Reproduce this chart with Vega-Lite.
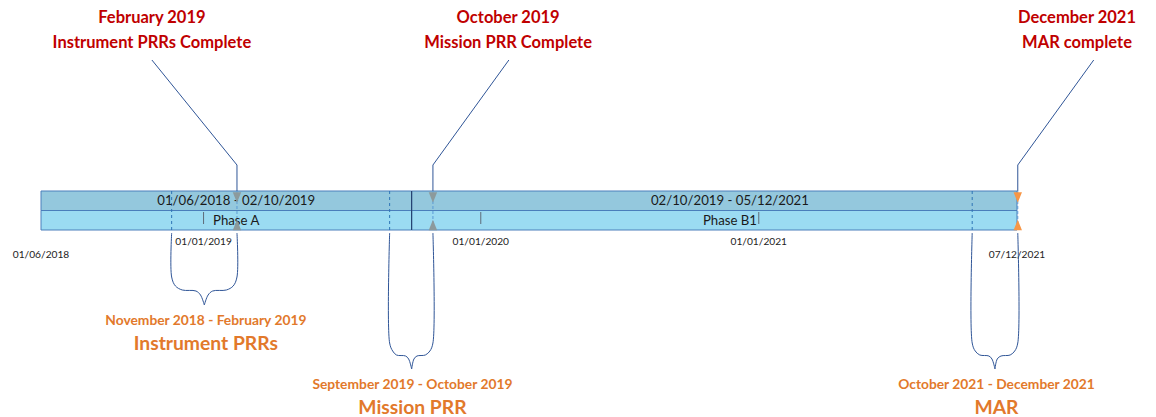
{
  "$schema": "https://vega.github.io/schema/vega-lite/v6.json",
  "width": 1156,
  "height": 417,
  "autosize": "none",
  "padding": 0,
  "background": "white",
  "config": {"view": {"stroke": null}, "text": {"font": "Lato"}},
  "datasets": {
    "phases": [
      {"phase": "Phase A", "range": "01/06/2018 - 02/10/2019", "start": "2018-06-01", "end": "2019-10-02", "mid": "2019-02-13"},
      {"phase": "Phase B1", "range": "02/10/2019 - 05/12/2021", "start": "2019-10-02", "end": "2021-12-07", "mid": "2020-11-24"}
    ],
    "years": [
      {"date": "2019-01-01", "label": "01/01/2019"},
      {"date": "2020-01-01", "label": "01/01/2020"},
      {"date": "2021-01-01", "label": "01/01/2021"}
    ],
    "ends": [
      {"date": "2018-06-01", "label": "01/06/2018"},
      {"date": "2021-12-07", "label": "07/12/2021"}
    ],
    "milestones": [
      {"month": "February 2019", "name": "Instrument PRRs Complete", "type": "PRR", "date": "2019-02-14", "anchor": "2018-10-25", "labelAt": "2018-10-25"},
      {"month": "October 2019", "name": "Mission PRR Complete", "type": "PRR", "date": "2019-10-30", "anchor": "2020-02-07", "labelAt": "2020-02-06"},
      {"month": "December 2021", "name": "MAR complete", "type": "MAR", "date": "2021-12-08", "anchor": "2022-03-18", "labelAt": "2022-02-24"}
    ],
    "windows": [
      {"name": "Instrument PRRs", "range": "November 2018 - February 2019", "start": "2018-11-20", "labelAt": "2019-01-04", "tip": 305},
      {"name": "Mission PRR", "range": "September 2019 - October 2019", "start": "2019-09-03", "labelAt": "2019-10-03", "tip": 369},
      {"name": "MAR", "range": "October 2021 - December 2021", "start": "2021-10-09", "labelAt": "2021-11-10", "tip": 369}
    ],
    "braces": [
      {"brace": "1L", "i": 0, "date": "2018-11-20", "level": 233},
      {"brace": "1L", "i": 1, "date": "2018-11-20", "level": 277},
      {"brace": "1L", "i": 2, "date": "2018-11-25", "level": 286},
      {"brace": "1L", "i": 3, "date": "2018-12-04", "level": 290},
      {"brace": "1L", "i": 4, "date": "2018-12-22", "level": 291},
      {"brace": "1L", "i": 5, "date": "2018-12-28", "level": 295},
      {"brace": "1L", "i": 6, "date": "2019-01-02", "level": 305},
      {"brace": "1R", "i": 0, "date": "2019-02-14", "level": 233},
      {"brace": "1R", "i": 1, "date": "2019-02-14", "level": 277},
      {"brace": "1R", "i": 2, "date": "2019-02-09", "level": 286},
      {"brace": "1R", "i": 3, "date": "2019-01-31", "level": 290},
      {"brace": "1R", "i": 4, "date": "2019-01-13", "level": 291},
      {"brace": "1R", "i": 5, "date": "2019-01-07", "level": 295},
      {"brace": "1R", "i": 6, "date": "2019-01-02", "level": 305},
      {"brace": "2L", "i": 0, "date": "2019-09-03", "level": 233},
      {"brace": "2L", "i": 1, "date": "2019-09-03", "level": 343},
      {"brace": "2L", "i": 2, "date": "2019-09-07", "level": 351},
      {"brace": "2L", "i": 3, "date": "2019-09-12", "level": 355},
      {"brace": "2L", "i": 4, "date": "2019-09-24", "level": 356},
      {"brace": "2L", "i": 5, "date": "2019-09-28", "level": 359},
      {"brace": "2L", "i": 6, "date": "2019-10-02", "level": 369},
      {"brace": "2R", "i": 0, "date": "2019-10-30", "level": 233},
      {"brace": "2R", "i": 1, "date": "2019-10-30", "level": 343},
      {"brace": "2R", "i": 2, "date": "2019-10-26", "level": 351},
      {"brace": "2R", "i": 3, "date": "2019-10-20", "level": 355},
      {"brace": "2R", "i": 4, "date": "2019-10-09", "level": 356},
      {"brace": "2R", "i": 5, "date": "2019-10-05", "level": 359},
      {"brace": "2R", "i": 6, "date": "2019-10-02", "level": 369},
      {"brace": "3L", "i": 0, "date": "2021-10-09", "level": 233},
      {"brace": "3L", "i": 1, "date": "2021-10-09", "level": 343},
      {"brace": "3L", "i": 2, "date": "2021-10-13", "level": 351},
      {"brace": "3L", "i": 3, "date": "2021-10-19", "level": 355},
      {"brace": "3L", "i": 4, "date": "2021-10-31", "level": 356},
      {"brace": "3L", "i": 5, "date": "2021-11-04", "level": 359},
      {"brace": "3L", "i": 6, "date": "2021-11-08", "level": 369},
      {"brace": "3R", "i": 0, "date": "2021-12-08", "level": 233},
      {"brace": "3R", "i": 1, "date": "2021-12-08", "level": 343},
      {"brace": "3R", "i": 2, "date": "2021-12-04", "level": 351},
      {"brace": "3R", "i": 3, "date": "2021-11-28", "level": 355},
      {"brace": "3R", "i": 4, "date": "2021-11-16", "level": 356},
      {"brace": "3R", "i": 5, "date": "2021-11-11", "level": 359},
      {"brace": "3R", "i": 6, "date": "2021-11-08", "level": 369}
    ]
  },
  "layer": [
    {
      "data": {"name": "phases"},
      "mark": {"type": "rect", "fill": "#94C8DD", "stroke": "#4A7EBB", "strokeWidth": 1},
      "encoding": {
        "x": {"field": "start", "type": "temporal", "axis": null, "scale": {"type": "utc", "domain": [{"year": 2018, "month": 4, "date": 8, "utc": true}, {"year": 2022, "month": 6, "date": 8, "utc": true}]}},
        "x2": {"field": "end"},
        "y": {"datum": 191, "type": "quantitative", "axis": null, "scale": {"domain": [0, 417], "reverse": true}},
        "y2": {"datum": 210.5}
      }
    },
    {
      "data": {"name": "phases"},
      "mark": {"type": "rect", "fill": "#9BDBF2", "stroke": "#4A7EBB", "strokeWidth": 1},
      "encoding": {
        "x": {"field": "start", "type": "temporal", "axis": null, "scale": {"type": "utc", "domain": [{"year": 2018, "month": 4, "date": 8, "utc": true}, {"year": 2022, "month": 6, "date": 8, "utc": true}]}},
        "x2": {"field": "end"},
        "y": {"datum": 210.5, "type": "quantitative", "axis": null, "scale": {"domain": [0, 417], "reverse": true}},
        "y2": {"datum": 230}
      }
    },
    {
      "data": {"name": "phases"},
      "transform": [{"filter": "datum.phase == 'Phase B1'"}],
      "mark": {"type": "rule", "color": "#1F3864", "strokeWidth": 1},
      "encoding": {
        "x": {"field": "start", "type": "temporal", "axis": null, "scale": {"type": "utc", "domain": [{"year": 2018, "month": 4, "date": 8, "utc": true}, {"year": 2022, "month": 6, "date": 8, "utc": true}]}},
        "y": {"datum": 191, "type": "quantitative", "axis": null, "scale": {"domain": [0, 417], "reverse": true}},
        "y2": {"datum": 230}
      }
    },
    {
      "data": {"name": "windows"},
      "mark": {"type": "rule", "color": "#2E75B6", "strokeWidth": 1, "strokeDash": [3, 3]},
      "encoding": {
        "x": {"field": "start", "type": "temporal", "axis": null, "scale": {"type": "utc", "domain": [{"year": 2018, "month": 4, "date": 8, "utc": true}, {"year": 2022, "month": 6, "date": 8, "utc": true}]}},
        "y": {"datum": 191, "type": "quantitative", "axis": null, "scale": {"domain": [0, 417], "reverse": true}},
        "y2": {"datum": 230}
      }
    },
    {
      "data": {"name": "milestones"},
      "mark": {"type": "rule", "color": "#5B9BD5", "strokeWidth": 1, "strokeDash": [3, 2]},
      "encoding": {
        "x": {"field": "date", "type": "temporal", "axis": null, "scale": {"type": "utc", "domain": [{"year": 2018, "month": 4, "date": 8, "utc": true}, {"year": 2022, "month": 6, "date": 8, "utc": true}]}},
        "y": {"datum": 191, "type": "quantitative", "axis": null, "scale": {"domain": [0, 417], "reverse": true}},
        "y2": {"datum": 230}
      }
    },
    {
      "data": {"name": "years"},
      "mark": {"type": "rule", "color": "#5F6B78", "strokeWidth": 1},
      "encoding": {
        "x": {"field": "date", "type": "temporal", "axis": null, "scale": {"type": "utc", "domain": [{"year": 2018, "month": 4, "date": 8, "utc": true}, {"year": 2022, "month": 6, "date": 8, "utc": true}]}},
        "y": {"datum": 212, "type": "quantitative", "axis": null, "scale": {"domain": [0, 417], "reverse": true}},
        "y2": {"datum": 224}
      }
    },
    {
      "data": {"name": "phases"},
      "mark": {"type": "text", "fontSize": 13.2, "color": "#1A1A1A", "align": "center", "baseline": "middle"},
      "encoding": {
        "x": {"field": "mid", "type": "temporal", "axis": null, "scale": {"type": "utc", "domain": [{"year": 2018, "month": 4, "date": 8, "utc": true}, {"year": 2022, "month": 6, "date": 8, "utc": true}]}},
        "y": {"datum": 200.5, "type": "quantitative", "axis": null, "scale": {"domain": [0, 417], "reverse": true}},
        "text": {"field": "range"}
      }
    },
    {
      "data": {"name": "phases"},
      "mark": {"type": "text", "fontSize": 13.2, "color": "#1A1A1A", "align": "center", "baseline": "middle"},
      "encoding": {
        "x": {"field": "mid", "type": "temporal", "axis": null, "scale": {"type": "utc", "domain": [{"year": 2018, "month": 4, "date": 8, "utc": true}, {"year": 2022, "month": 6, "date": 8, "utc": true}]}},
        "y": {"datum": 220.5, "type": "quantitative", "axis": null, "scale": {"domain": [0, 417], "reverse": true}},
        "text": {"field": "phase"}
      }
    },
    {
      "data": {"name": "years"},
      "mark": {"type": "text", "fontSize": 10.2, "color": "#222222", "align": "center", "baseline": "middle"},
      "encoding": {
        "x": {"field": "date", "type": "temporal", "axis": null, "scale": {"type": "utc", "domain": [{"year": 2018, "month": 4, "date": 8, "utc": true}, {"year": 2022, "month": 6, "date": 8, "utc": true}]}},
        "y": {"datum": 241.5, "type": "quantitative", "axis": null, "scale": {"domain": [0, 417], "reverse": true}},
        "text": {"field": "label"}
      }
    },
    {
      "data": {"name": "ends"},
      "mark": {"type": "text", "fontSize": 10.2, "color": "#222222", "align": "center", "baseline": "middle"},
      "encoding": {
        "x": {"field": "date", "type": "temporal", "axis": null, "scale": {"type": "utc", "domain": [{"year": 2018, "month": 4, "date": 8, "utc": true}, {"year": 2022, "month": 6, "date": 8, "utc": true}]}},
        "y": {"datum": 255, "type": "quantitative", "axis": null, "scale": {"domain": [0, 417], "reverse": true}},
        "text": {"field": "label"}
      }
    },
    {
      "data": {"name": "milestones"},
      "mark": {"type": "rule", "color": "#2F5597", "strokeWidth": 1},
      "encoding": {
        "x": {"field": "anchor", "type": "temporal", "axis": null, "scale": {"type": "utc", "domain": [{"year": 2018, "month": 4, "date": 8, "utc": true}, {"year": 2022, "month": 6, "date": 8, "utc": true}]}},
        "x2": {"field": "date"},
        "y": {"datum": 60, "type": "quantitative", "axis": null, "scale": {"domain": [0, 417], "reverse": true}},
        "y2": {"datum": 165}
      }
    },
    {
      "data": {"name": "milestones"},
      "mark": {"type": "rule", "color": "#2F5597", "strokeWidth": 1},
      "encoding": {
        "x": {"field": "date", "type": "temporal", "axis": null, "scale": {"type": "utc", "domain": [{"year": 2018, "month": 4, "date": 8, "utc": true}, {"year": 2022, "month": 6, "date": 8, "utc": true}]}},
        "y": {"datum": 165, "type": "quantitative", "axis": null, "scale": {"domain": [0, 417], "reverse": true}},
        "y2": {"datum": 191}
      }
    },
    {
      "data": {"name": "milestones"},
      "mark": {"type": "point", "filled": true, "opacity": 1, "size": 110, "shape": "M-0.8,-1L0.8,-1L0,1Z"},
      "encoding": {
        "x": {"field": "date", "type": "temporal", "axis": null, "scale": {"type": "utc", "domain": [{"year": 2018, "month": 4, "date": 8, "utc": true}, {"year": 2022, "month": 6, "date": 8, "utc": true}]}},
        "y": {"datum": 197.5, "type": "quantitative", "axis": null, "scale": {"domain": [0, 417], "reverse": true}},
        "color": {"field": "type", "type": "nominal", "legend": null, "scale": {"domain": ["PRR", "MAR"], "range": ["#8C9A9C", "#F79646"]}}
      }
    },
    {
      "data": {"name": "milestones"},
      "mark": {"type": "point", "filled": true, "opacity": 1, "size": 110, "shape": "M-0.8,1L0.8,1L0,-1Z"},
      "encoding": {
        "x": {"field": "date", "type": "temporal", "axis": null, "scale": {"type": "utc", "domain": [{"year": 2018, "month": 4, "date": 8, "utc": true}, {"year": 2022, "month": 6, "date": 8, "utc": true}]}},
        "y": {"datum": 225, "type": "quantitative", "axis": null, "scale": {"domain": [0, 417], "reverse": true}},
        "color": {"field": "type", "type": "nominal", "legend": null, "scale": {"domain": ["PRR", "MAR"], "range": ["#8C9A9C", "#F79646"]}}
      }
    },
    {
      "data": {"name": "milestones"},
      "mark": {"type": "text", "fontSize": 16.5, "fontWeight": "bold", "color": "#C00000", "align": "center", "baseline": "middle"},
      "encoding": {
        "x": {"field": "labelAt", "type": "temporal", "axis": null, "scale": {"type": "utc", "domain": [{"year": 2018, "month": 4, "date": 8, "utc": true}, {"year": 2022, "month": 6, "date": 8, "utc": true}]}},
        "y": {"datum": 18, "type": "quantitative", "axis": null, "scale": {"domain": [0, 417], "reverse": true}},
        "text": {"field": "month"}
      }
    },
    {
      "data": {"name": "milestones"},
      "mark": {"type": "text", "fontSize": 16.5, "fontWeight": "bold", "color": "#C00000", "align": "center", "baseline": "middle"},
      "encoding": {
        "x": {"field": "labelAt", "type": "temporal", "axis": null, "scale": {"type": "utc", "domain": [{"year": 2018, "month": 4, "date": 8, "utc": true}, {"year": 2022, "month": 6, "date": 8, "utc": true}]}},
        "y": {"datum": 43, "type": "quantitative", "axis": null, "scale": {"domain": [0, 417], "reverse": true}},
        "text": {"field": "name"}
      }
    },
    {
      "data": {"name": "braces"},
      "mark": {"type": "line", "color": "#2F5597", "strokeWidth": 1, "interpolate": "catmull-rom"},
      "encoding": {
        "x": {"field": "date", "type": "temporal", "axis": null, "scale": {"type": "utc", "domain": [{"year": 2018, "month": 4, "date": 8, "utc": true}, {"year": 2022, "month": 6, "date": 8, "utc": true}]}},
        "y": {"field": "level", "type": "quantitative", "axis": null, "scale": {"domain": [0, 417], "reverse": true}},
        "detail": {"field": "brace", "type": "nominal"},
        "order": {"field": "i", "type": "quantitative"}
      }
    },
    {
      "data": {"name": "windows"},
      "mark": {"type": "text", "fontSize": 13.8, "fontWeight": "bold", "color": "#E2792B", "align": "center", "baseline": "middle", "dy": 15.5},
      "encoding": {
        "x": {"field": "labelAt", "type": "temporal", "axis": null, "scale": {"type": "utc", "domain": [{"year": 2018, "month": 4, "date": 8, "utc": true}, {"year": 2022, "month": 6, "date": 8, "utc": true}]}},
        "y": {"field": "tip", "type": "quantitative", "axis": null, "scale": {"domain": [0, 417], "reverse": true}},
        "text": {"field": "range"}
      }
    },
    {
      "data": {"name": "windows"},
      "mark": {"type": "text", "fontSize": 19.3, "fontWeight": "bold", "color": "#E2792B", "align": "center", "baseline": "middle", "dy": 38.5},
      "encoding": {
        "x": {"field": "labelAt", "type": "temporal", "axis": null, "scale": {"type": "utc", "domain": [{"year": 2018, "month": 4, "date": 8, "utc": true}, {"year": 2022, "month": 6, "date": 8, "utc": true}]}},
        "y": {"field": "tip", "type": "quantitative", "axis": null, "scale": {"domain": [0, 417], "reverse": true}},
        "text": {"field": "name"}
      }
    }
  ]
}
